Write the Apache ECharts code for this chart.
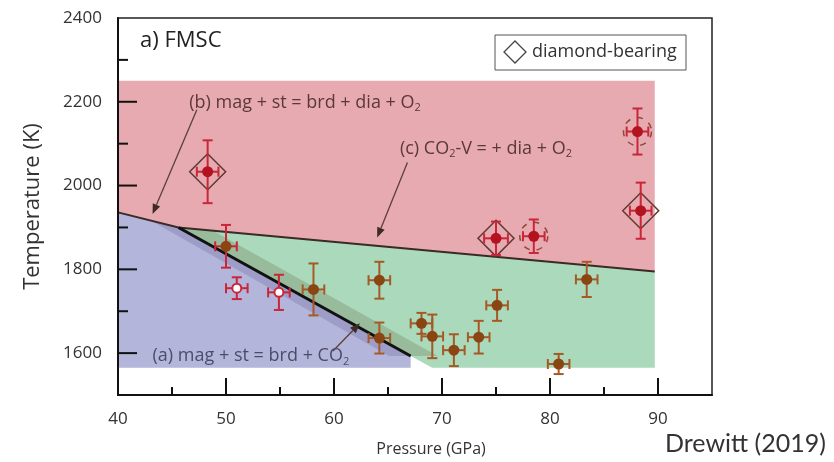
<!DOCTYPE html>
<html lang="en">
<head>
<meta charset="UTF-8">
<title>FMSC</title>
<style>
  html, body { margin: 0; background: #fff; }
  #chart { width: 834px; height: 462px; }
</style>
</head>
<body>
<div id="chart"></div>
<script src="https://cdn.jsdelivr.net/npm/echarts@6/dist/echarts.min.js"></script>
<script>
// experiments: pressure (GPa), temperature (K), errors, marker kind
const pressure = [48.3, 75.0, 78.5, 88.4, 88.1, 50.0, 58.1, 64.2, 64.2, 51.0, 54.9, 68.1, 69.1, 71.1, 73.4, 75.1, 83.4, 80.8];
const temperature = [2033, 1874, 1879, 1940, 2129, 1855, 1752, 1774, 1636, 1755, 1745, 1671, 1640, 1607, 1638, 1714, 1776, 1574];
const pressureErr = [1, 1.1, 1, 1, 1, 1, 1, 1, 1, 1, 1, 1, 1, 1, 1, 1, 1, 1];
const temperatureErr = [75, 40, 40, 67, 55, 51, 62, 44, 37, 26, 42, 25, 52, 38, 39, 37, 42, 24];
const kind = ['dia', 'dia', 'dash', 'dia', 'dash', 'mixed', 'brown', 'brown', 'brown', 'open', 'open',
              'brown', 'brown', 'brown', 'brown', 'brown', 'brown', 'brown'];

// phase fields (GPa, K)
const redFieldP = [40, 89.7, 89.7, 45.6, 40];
const redFieldT = [2250, 2250, 1795, 1900, 1936];
const blueFieldP = [40, 45.6, 67.1, 67.1, 40];
const blueFieldT = [1936, 1900, 1593, 1565, 1565];
const greenFieldP = [45.6, 89.7, 89.7, 69.1, 67.1];
const greenFieldT = [1900, 1795, 1565, 1565, 1593];
const blueBandP = [43.0, 45.6, 67.1, 65.1];
const blueBandT = [1917, 1900, 1593, 1593];
const greenBandP = [45.6, 48.8, 69.6, 67.1];
const greenBandT = [1900, 1892, 1593, 1593];

// reaction boundaries
const lineCP = [40, 45.6, 89.7];
const lineCT = [1936, 1900, 1795];
const lineAP = [45.6, 67.1];
const lineAT = [1900, 1593];

// annotation arrows: from -> to
const arrowFromP = [47.3, 66.8, 59.9];
const arrowFromT = [2181, 2055, 1605];
const arrowToP = [43.2, 64.0, 62.4];
const arrowToT = [1932, 1876, 1671];

// annotation labels, anchored at left-middle
const noteP = [46.6, 66.1, 43.2];
const noteT = [2198, 2088, 1593];
const noteText = [
  '{n|(b) mag + st = brd + dia + O}{s|2}',
  '{n|(c) CO}{s|2}{n|-V = + dia + O}{s|2}',
  '{n|(a) mag + st = brd + CO}{s|2}'
];

// ticks and tick labels
const xLabels = [40, 50, 60, 70, 80, 90];
const xMajor = [50, 60, 70, 80, 90];
const xMinor = [45, 55, 65, 75, 85];
const yLabels = [1600, 1800, 2000, 2200, 2400];
const yMajor = [1600, 1800, 2000, 2200];
const yMinor = [1700, 1900, 2100, 2300];

const X_MIN = 40, X_MAX = 95, Y_MIN = 1500, Y_MAX = 2400;
const FONT = '"Open Sans", sans-serif';

function fieldSeries(P, T, color) {
  return {
    type: 'custom',
    silent: true,
    data: [0],
    renderItem: function (params, api) {
      const pts = P.map((p, i) => api.coord([p, T[i]]));
      return { type: 'polygon', shape: { points: pts }, style: { fill: color } };
    },
    z: 1
  };
}

function lineSeries(P, T, color, width, z) {
  return {
    type: 'custom',
    silent: true,
    data: [0],
    renderItem: function (params, api) {
      const pts = P.map((p, i) => api.coord([p, T[i]]));
      return { type: 'polyline', shape: { points: pts }, style: { stroke: color, lineWidth: width, fill: null } };
    },
    z: z
  };
}

// inward ticks, placed through the axes' own scales
function renderTicks(params, api) {
  const origin = api.coord([X_MIN, Y_MIN]);
  const st = { stroke: '#111', lineWidth: 2 };
  const out = [];
  const xt = (vals, len) => vals.forEach(v => {
    const px = api.coord([v, Y_MIN])[0];
    out.push({ type: 'line', shape: { x1: px, y1: origin[1], x2: px, y2: origin[1] - len }, style: st });
  });
  const yt = (vals, len) => vals.forEach(v => {
    const py = api.coord([X_MIN, v])[1];
    out.push({ type: 'line', shape: { x1: origin[0], y1: py, x2: origin[0] + len, y2: py }, style: st });
  });
  xt(xMajor, 17); xt(xMinor, 8);
  yt(yMajor, 19); yt(yMinor, 10);
  return { type: 'group', children: out };
}

const pointData = pressure.map((p, i) => [p, temperature[i], pressureErr[i], temperatureErr[i], i]);

function renderPoint(params, api) {
  const c = api.coord([api.value(0), api.value(1)]);
  const lo = api.coord([api.value(0) - api.value(2), api.value(1) - api.value(3)]);
  const hi = api.coord([api.value(0) + api.value(2), api.value(1) + api.value(3)]);
  const k = kind[api.value(4)];
  const red = '#c9263a', redDot = '#b3121f', brown = '#a55a26', brownDot = '#8a4513';
  const barColor = (k === 'brown') ? brown : red;
  const cap = 5;
  const bar = { stroke: barColor, lineWidth: 2 };
  const children = [];
  if (k === 'dia') {
    const h = 18;
    children.push({ type: 'polygon', shape: { points: [[c[0], c[1] - h], [c[0] + h, c[1]], [c[0], c[1] + h], [c[0] - h, c[1]]] },
      style: { fill: null, stroke: '#5e3a30', lineWidth: 1.5 } });
  }
  if (k === 'dash') {
    children.push({ type: 'circle', shape: { cx: c[0], cy: c[1], r: 14 },
      style: { fill: null, stroke: '#8c4a36', lineWidth: 1.5, lineDash: [6, 7] } });
  }
  children.push(
    { type: 'line', shape: { x1: c[0], y1: hi[1], x2: c[0], y2: lo[1] }, style: bar },
    { type: 'line', shape: { x1: c[0] - cap, y1: hi[1], x2: c[0] + cap, y2: hi[1] }, style: bar },
    { type: 'line', shape: { x1: c[0] - cap, y1: lo[1], x2: c[0] + cap, y2: lo[1] }, style: bar },
    { type: 'line', shape: { x1: lo[0], y1: c[1], x2: hi[0], y2: c[1] }, style: bar },
    { type: 'line', shape: { x1: lo[0], y1: c[1] - cap, x2: lo[0], y2: c[1] + cap }, style: bar },
    { type: 'line', shape: { x1: hi[0], y1: c[1] - cap, x2: hi[0], y2: c[1] + cap }, style: bar }
  );
  if (k === 'open') {
    children.push({ type: 'circle', shape: { cx: c[0], cy: c[1], r: 4.5 }, style: { fill: '#fff', stroke: red, lineWidth: 2 } });
  } else {
    const dot = (k === 'dia' || k === 'dash') ? redDot : brownDot;
    children.push({ type: 'circle', shape: { cx: c[0], cy: c[1], r: 5.5 }, style: { fill: dot } });
  }
  return { type: 'group', children: children };
}

function renderArrow(params, api) {
  const i = params.dataIndex;
  const a = api.coord([arrowFromP[i], arrowFromT[i]]);
  const b = api.coord([arrowToP[i], arrowToT[i]]);
  const ang = Math.atan2(b[1] - a[1], b[0] - a[0]);
  const L = 10, W = 4;
  const bx = b[0] - L * Math.cos(ang), by = b[1] - L * Math.sin(ang);
  const head = [b, [bx + W * Math.sin(ang), by - W * Math.cos(ang)], [bx - W * Math.sin(ang), by + W * Math.cos(ang)]];
  return { type: 'group', children: [
    { type: 'line', shape: { x1: a[0], y1: a[1], x2: bx, y2: by }, style: { stroke: '#5a4038', lineWidth: 1.3 } },
    { type: 'polygon', shape: { points: head }, style: { fill: '#3e2a26' } }
  ] };
}

function renderNote(params, api) {
  const i = params.dataIndex;
  const p = api.coord([noteP[i], noteT[i]]);
  const col = i === 2 ? '#4c4c6a' : '#5a3a34';
  return {
    type: 'text', x: p[0], y: p[1],
    style: {
      text: noteText[i], verticalAlign: 'middle', align: 'left',
      rich: {
        n: { fontSize: 18, fontFamily: FONT, fill: col, lineHeight: 22 },
        s: { fontSize: 11, fontFamily: FONT, fill: col, lineHeight: 11, verticalAlign: 'bottom' }
      }
    }
  };
}

const axisFont = { fontFamily: FONT, fontSize: 17, color: '#333', formatter: v => String(v) };

const option = {
  animation: false,
  backgroundColor: '#fff',
  grid: { left: 118, right: 122, top: 18, bottom: 66, show: true, borderColor: '#222', borderWidth: 1.5 },
  xAxis: {
    type: 'value', min: X_MIN, max: X_MAX, z: 10,
    name: 'Pressure (GPa)', nameLocation: 'middle', nameGap: 46,
    nameTextStyle: { fontFamily: FONT, fontSize: 16, color: '#333', padding: [0, 0, 0, 32] },
    axisLine: { show: true, lineStyle: { color: '#111', width: 2 } },
    axisTick: { show: false },
    axisLabel: Object.assign({ customValues: xLabels, margin: 16 }, axisFont),
    splitLine: { show: false }
  },
  yAxis: {
    type: 'value', min: Y_MIN, max: Y_MAX, z: 10,
    name: 'Temperature (K)', nameLocation: 'middle', nameGap: 74,
    nameTextStyle: { fontFamily: FONT, fontSize: 22, color: '#333' },
    axisLine: { show: true, lineStyle: { color: '#111', width: 2 } },
    axisTick: { show: false },
    axisLabel: Object.assign({ customValues: yLabels, margin: 16 }, axisFont),
    splitLine: { show: false }
  },
  series: [
    fieldSeries(redFieldP, redFieldT, '#e8aab1'),
    fieldSeries(blueFieldP, blueFieldT, '#b4b5da'),
    fieldSeries(greenFieldP, greenFieldT, '#aad9bb'),
    fieldSeries(blueBandP, blueBandT, '#9d9dc8'),
    fieldSeries(greenBandP, greenBandT, '#98bb9c'),
    lineSeries(lineCP, lineCT, '#3a2a28', 2, 3),
    lineSeries(lineAP, lineAT, '#111', 3, 3),
    { type: 'custom', silent: true, data: arrowFromP.map((p, i) => i), renderItem: renderArrow, z: 4 },
    { type: 'custom', silent: true, data: noteP.map((p, i) => i), renderItem: renderNote, z: 4 },
    { type: 'custom', silent: true, data: pointData, encode: { x: 0, y: 1 }, renderItem: renderPoint, z: 5 },
    { type: 'custom', silent: true, data: [0], renderItem: renderTicks, z: 8 }
  ],
  graphic: [
    { type: 'text', left: 140, top: 30, style: { text: 'a) FMSC', fontFamily: FONT, fontSize: 22, fill: '#222' } },
    { type: 'rect', shape: { x: 495, y: 35, width: 191, height: 35 }, style: { fill: '#fff', stroke: '#555', lineWidth: 1 } },
    { type: 'polygon', shape: { points: [[515, 41], [526, 52], [515, 63], [504, 52]] }, style: { fill: null, stroke: '#444', lineWidth: 1.3 } },
    { type: 'text', x: 532, y: 52, style: { text: 'diamond-bearing', verticalAlign: 'middle', fontFamily: FONT, fontSize: 18, fill: '#333' } },
    { type: 'text', x: 665, y: 444, style: { text: 'Drewitt (2019)', verticalAlign: 'middle', fontFamily: 'Lato, sans-serif', fontSize: 25, fill: '#333' } }
  ]
};

const chart = echarts.init(document.getElementById('chart'));
chart.setOption(option);
</script>
</body>
</html>
